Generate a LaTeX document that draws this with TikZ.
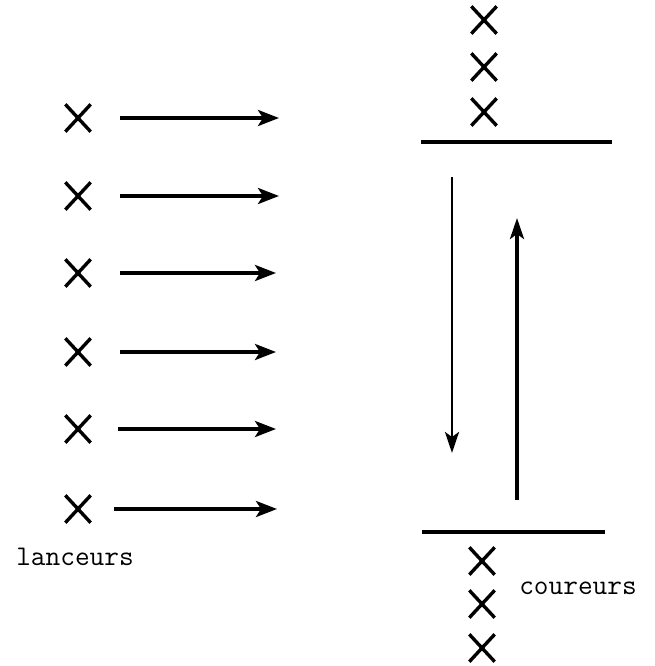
\documentclass[tikz,border=0pt]{standalone}
\usepackage{fontspec}
\usetikzlibrary{arrows.meta,shapes.misc}
\begin{document}
\begin{tikzpicture}[x=1pt,y=-1pt,
  xmark/.style={cross out,draw,line width=3.4pt,minimum width=22pt,minimum height=24pt,inner sep=0pt},
  harr/.style={line width=3.6pt,-{Stealth[length=21pt,width=16pt,inset=5pt]}},
  varr/.style={-{Stealth[length=21pt,width=14pt,inset=5pt]}},
  bar/.style={line width=3.4pt},
  lbl/.style={font=\ttfamily\fontsize{28.5}{32}\selectfont,inner sep=0pt}]
\useasboundingbox (0,0) rectangle (654,666);
% left throwers
\foreach \i/\y/\xs/\xe in {1/118/120/279, 2/196/120/279, 3/273/120/276, 4/352/120/276, 5/429/118/276, 6/509/114/277}{
  \node[xmark] (L\i) at (78,\y) {};
  \coordinate (S\i) at (\xs,\y);
  \coordinate (E\i) at (\xe,\y);
  \draw[harr] (S\i) -- (E\i);
}
\node[lbl] (lanceurs) at (75,557) {lanceurs};
% top runners
\node[xmark] (T1) at (484,20) {};
\node[xmark] (T2) at (484,67) {};
\node[xmark] (T3) at (484,112) {};
\coordinate (TL) at (421,142);
\coordinate (TR) at (612,142);
\draw[bar] (TL) -- (TR);
% bottom runners
\coordinate (BL) at (422,532);
\coordinate (BR) at (605,532);
\draw[bar] (BL) -- (BR);
\node[xmark] (B1) at (482,561) {};
\node[xmark] (B2) at (482,604) {};
\node[xmark] (B3) at (482,648) {};
\node[lbl] (coureurs) at (578,588) {coureurs};
% vertical arrows
\coordinate (D1) at (452,177);
\coordinate (D2) at (452,453);
\draw[varr,line width=2.8pt] (D1) -- (D2);
\coordinate (U1) at (517,500);
\coordinate (U2) at (517,218);
\draw[varr,line width=3.6pt] (U1) -- (U2);
\end{tikzpicture}
\end{document}
